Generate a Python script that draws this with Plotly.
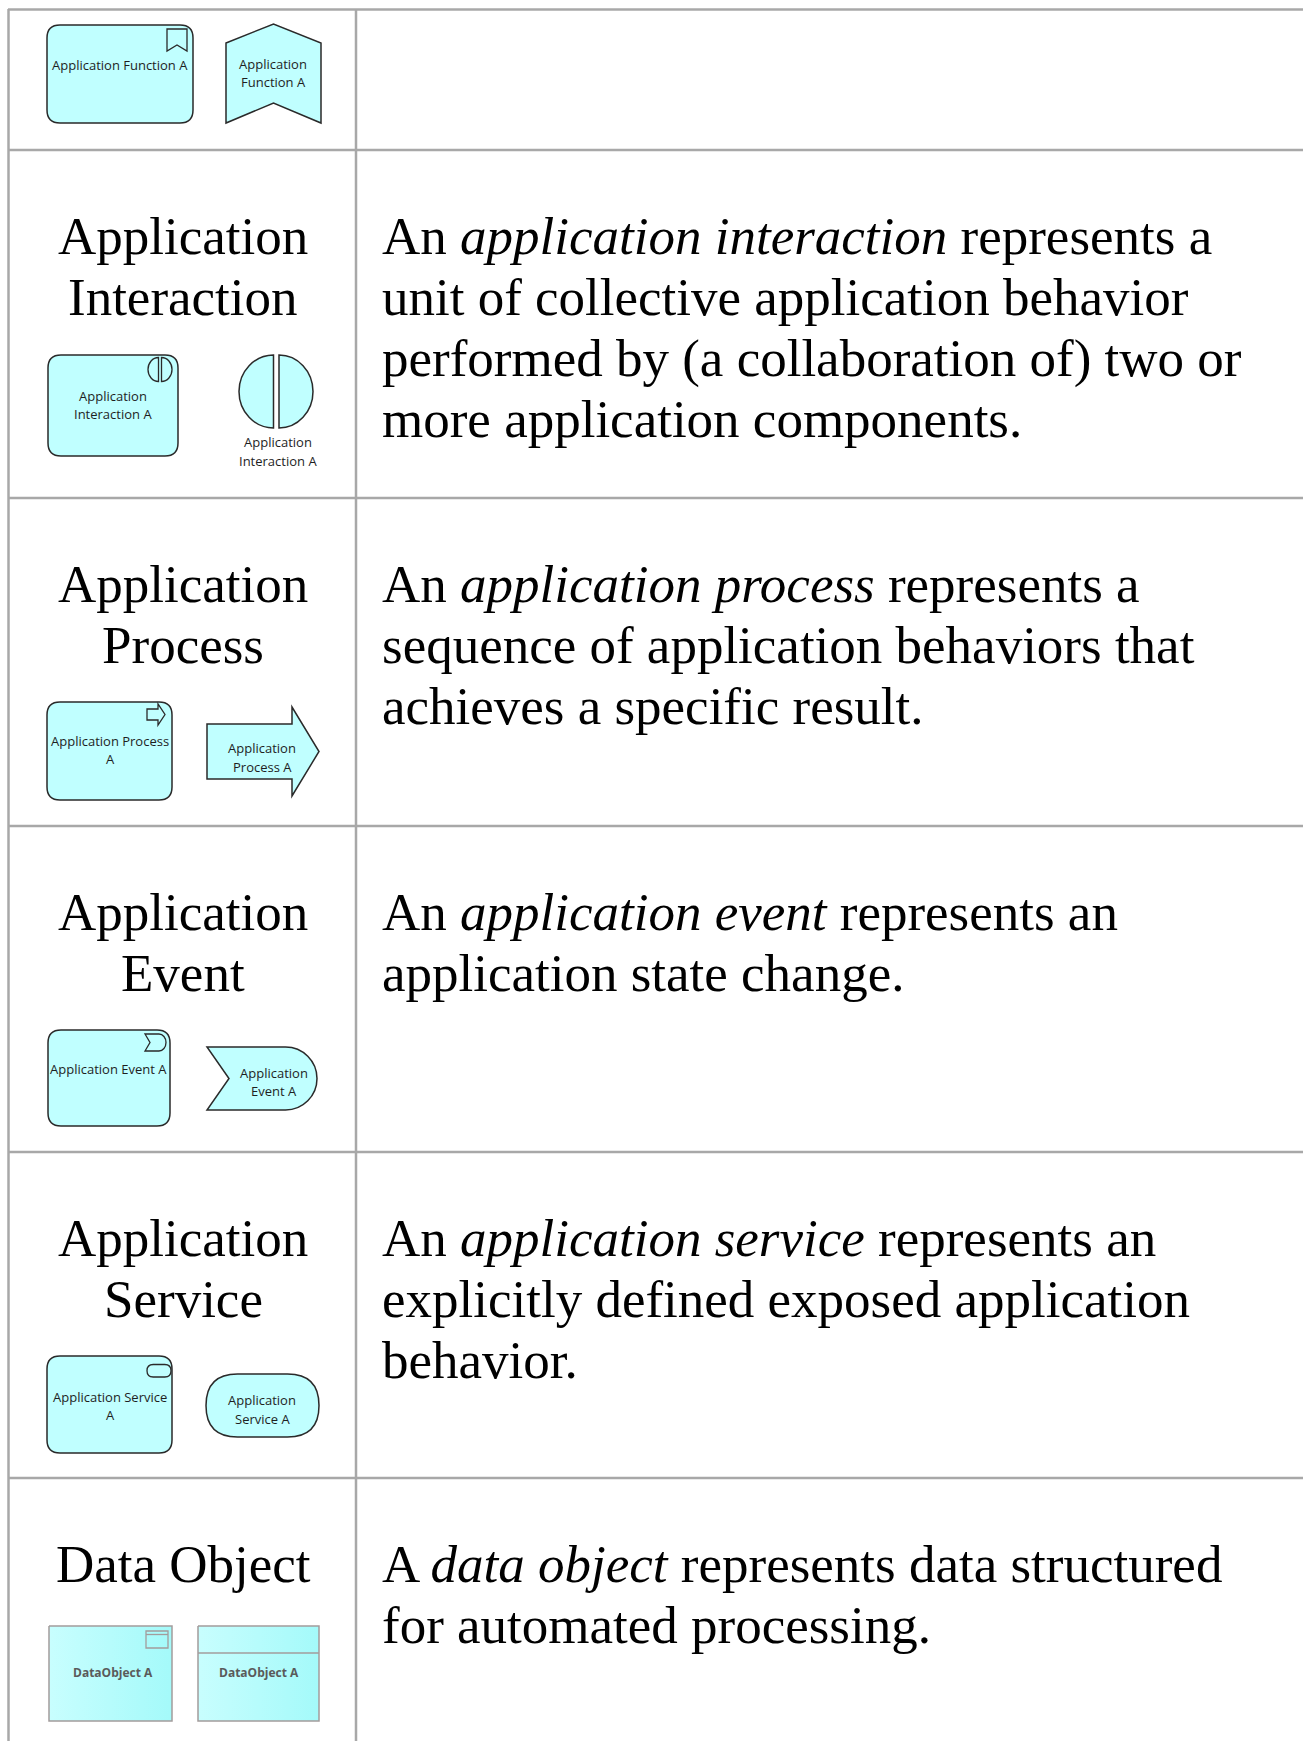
import plotly.graph_objects as go

# ---------------- content ----------------
titles = [
    ["Application", "Interaction"],
    ["Application", "Process"],
    ["Application", "Event"],
    ["Application", "Service"],
    ["Data Object"],
]
descriptions = [
    ["An <i>application interaction</i> represents a",
     "unit of collective application behavior",
     "performed by (a collaboration of) two or",
     "more application components."],
    ["An <i>application process</i> represents a",
     "sequence of application behaviors that",
     "achieves a specific result."],
    ["An <i>application event</i> represents an",
     "application state change."],
    ["An <i>application service</i> represents an",
     "explicitly defined exposed application",
     "behavior."],
    ["A <i>data object</i> represents data structured",
     "for automated processing."],
]
box_labels = [
    ["Application Function A"],
    ["Application", "Interaction A"],
    ["Application Process", "A"],
    ["Application Event A"],
    ["Application Service", "A"],
    ["DataObject A"],
]
shape_labels = [
    ["Application", "Function A"],
    ["Application", "Interaction A"],
    ["Application", "Process A"],
    ["Application", "Event A"],
    ["Application", "Service A"],
    ["DataObject A"],
]

W, H = 1303, 1741
GRID = "#a8a8a8"
FILL = "#c0ffff"
EDGE = "#2a2a2a"
SERIF = "Liberation Serif, Times New Roman, serif"
SANS = "Open Sans, Noto Sans, sans-serif"
LABEL = "#1e1e1e"

row_lines = [150, 498, 826, 1152, 1478]
divider_x = 356

fig = go.Figure()
shapes = []
ann = []


def line(x0, y0, x1, y1, color=GRID, width=2.5):
    shapes.append(dict(type="line", x0=x0, y0=y0, x1=x1, y1=y1,
                       line=dict(color=color, width=width), layer="below"))


def path(d, fill=FILL, color=EDGE, width=1.5):
    shapes.append(dict(type="path", path=d, fillcolor=fill,
                       line=dict(color=color, width=width), layer="above"))


def rrect(x0, y0, x1, y1, r):
    return (f"M{x0+r},{y0} L{x1-r},{y0} Q{x1},{y0} {x1},{y0+r} "
            f"L{x1},{y1-r} Q{x1},{y1} {x1-r},{y1} L{x0+r},{y1} "
            f"Q{x0},{y1} {x0},{y1-r} L{x0},{y0+r} Q{x0},{y0} {x0+r},{y0} Z")


K = 0.5523


def half_left(fx, cy, rx, ry):
    t, b = cy - ry, cy + ry
    return (f"M{fx},{t} C{fx-K*rx},{t} {fx-rx},{cy-K*ry} {fx-rx},{cy} "
            f"C{fx-rx},{cy+K*ry} {fx-K*rx},{b} {fx},{b} Z")


def half_right(fx, cy, rx, ry):
    t, b = cy - ry, cy + ry
    return (f"M{fx},{t} C{fx+K*rx},{t} {fx+rx},{cy-K*ry} {fx+rx},{cy} "
            f"C{fx+rx},{cy+K*ry} {fx+K*rx},{b} {fx},{b} Z")


def text(x, y, s, size, family=SANS, color=LABEL, xanchor="center"):
    ann.append(dict(x=x, y=y, text=s, showarrow=False, xanchor=xanchor,
                    yanchor="middle", font=dict(size=size, family=family, color=color),
                    borderpad=0, borderwidth=0))


def small_lines(xc, y_first, lines, step=18, size=13, color=LABEL):
    for i, s in enumerate(lines):
        text(xc, y_first + i * step, s, size, color=color)


# ---------------- grid ----------------
line(8, 9.5, W, 9.5)
line(8.5, 9, 8.5, H)
line(divider_x, 9, divider_x, H)
for y in row_lines:
    line(8, y, W, y)

# ---------------- titles & descriptions ----------------
for r, (tl, dl) in enumerate(zip(titles, descriptions)):
    top = row_lines[r]
    for i, s in enumerate(tl):
        text(183, top + 86 + i * 61, s, 53, family=SERIF, color="#000000")
    for i, s in enumerate(dl):
        text(382, top + 86 + i * 61, s, 53, family=SERIF, color="#000000", xanchor="left")

# ---------------- row 1 : function ----------------
path(rrect(47, 25, 193, 123, 13))
path("M167,29 L187,29 L187,51 L177,45 L167,51 Z", fill="rgba(0,0,0,0)", width=1.3)
small_lines(120, 65, box_labels[0])
path("M226,43 L273.5,24 L321,43 L321,123 L273.5,103 L226,123 Z")
small_lines(273, 64, shape_labels[0])

# ---------------- row 2 : interaction ----------------
path(rrect(48, 355, 178, 456, 13))
path(half_left(158.5, 369.5, 10.5, 12), width=1.3)
path(half_right(161.5, 369.5, 10.5, 12), width=1.3)
small_lines(113, 396, box_labels[1])
path(half_left(273.5, 391.5, 34.5, 36.5))
path(half_right(279, 391.5, 34, 36.5))
small_lines(278, 442, shape_labels[1], step=19)

# ---------------- row 3 : process ----------------
path(rrect(47, 702, 172, 800, 13))
path("M147,709 L158,709 L158,704 L165,714.5 L158,725 L158,720 L147,720 Z",
     fill="rgba(0,0,0,0)", width=1.3)
small_lines(110, 741, box_labels[2])
path("M207,724 L292,724 L292,707 L319,751.5 L292,796 L292,779 L207,779 Z")
small_lines(262, 748, shape_labels[2], step=19)

# ---------------- row 4 : event ----------------
path(rrect(48, 1030, 170, 1126, 13))
path(f"M145,1034 L159,1034 C{159+K*7},1034 166,{1042.5-K*8.5} 166,1042.5 "
     f"C166,{1042.5+K*8.5} {159+K*7},1051 159,1051 L145,1051 L150,1042.5 Z",
     fill="rgba(0,0,0,0)", width=1.3)
small_lines(108, 1069, box_labels[3])
r4 = 31.5
path(f"M207,1047 L285.5,1047 C{285.5+K*r4},1047 317,{1078.5-K*r4} 317,1078.5 "
     f"C317,{1078.5+K*r4} {285.5+K*r4},1110 285.5,1110 L207,1110 L229,1078.5 Z")
small_lines(274, 1073, shape_labels[3], step=18)

# ---------------- row 5 : service ----------------
path(rrect(47, 1356, 172, 1453, 13))
path(rrect(147, 1364.5, 171, 1377, 6.2), fill="rgba(0,0,0,0)", width=1.3)
small_lines(110, 1397, box_labels[4])
path(rrect(206, 1374, 319, 1437, 31.5))
small_lines(262, 1400, shape_labels[4], step=19)

# ---------------- row 6 : data object ----------------
GRAD = [[0, "#c8fefe"], [1, "#a4fafa"]]
DO_EDGE = "#a39c9c"
for (x0, x1) in [(49, 172), (198, 319)]:
    fig.add_trace(go.Scatter(
        x=[x0, x1, x1, x0, x0], y=[1626, 1626, 1721, 1721, 1626],
        mode="lines", fill="toself",
        fillgradient=dict(type="horizontal", colorscale=GRAD),
        line=dict(color=DO_EDGE, width=1.5), hoverinfo="skip", showlegend=False))
shapes.append(dict(type="rect", x0=146, y0=1631, x1=168, y1=1648,
                   line=dict(color=DO_EDGE, width=1.3), fillcolor="rgba(0,0,0,0)"))
line(146, 1634.5, 168, 1634.5, color=DO_EDGE, width=1.3)
shapes[-1]["layer"] = "above"
line(198, 1653, 319, 1653, color=DO_EDGE, width=1.3)
shapes[-1]["layer"] = "above"
text(113, 1672, "<b>" + box_labels[5][0] + "</b>", 12, color="#5a5a5a")
text(259, 1672, "<b>" + shape_labels[5][0] + "</b>", 12, color="#5a5a5a")

fig.update_layout(
    width=W, height=H, margin=dict(l=0, r=0, t=0, b=0),
    paper_bgcolor="white", plot_bgcolor="white",
    shapes=shapes, annotations=ann, showlegend=False,
    xaxis=dict(range=[0, W], visible=False, fixedrange=True),
    yaxis=dict(range=[H, 0], visible=False, fixedrange=True),
)

fig.write_html("out.html", config={"displayModeBar": False},
               post_script="document.body.style.margin='0';document.body.style.overflow='hidden';")
